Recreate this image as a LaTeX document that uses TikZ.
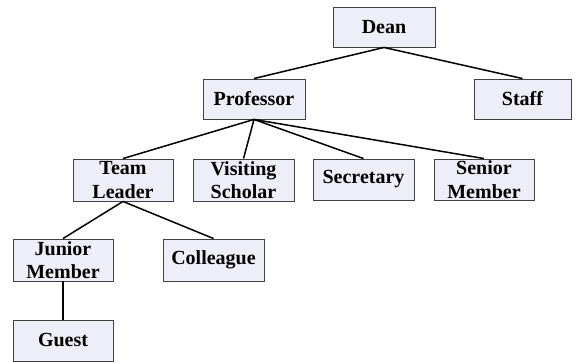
\documentclass[tikz,border=0pt]{standalone}
\usepackage{fontspec}
\setmainfont{Liberation Serif}
\begin{document}
\begin{tikzpicture}[x=1pt,y=-1pt,
  box/.style={draw=black!75, line width=0.9pt, fill=boxfill, minimum height=40pt,
    inner sep=0pt, align=center, font=\fontsize{20}{23.5}\selectfont\bfseries},
  link/.style={draw=black, line width=1.5pt}]
\definecolor{boxfill}{HTML}{EEEEF8}
\useasboundingbox (0,0) rectangle (576,363);
\node[box, minimum width=102pt] (dean) at (384,27) {Dean};
\node[box, minimum width=102pt] (prof) at (254,99) {Professor};
\node[box, minimum width=97pt] (staff) at (522.5,99) {Staff};
\node[box, minimum width=100pt, minimum height=42pt] (team) at (123,180) {Team\\Leader};
\node[box, minimum width=101pt, minimum height=42pt] (visit) at (243.5,180) {Visiting\\Scholar};
\node[box, minimum width=101pt, minimum height=41pt] (secr) at (363.5,179.5) {Secretary};
\node[box, minimum width=100pt, minimum height=41pt] (senior) at (484,179.5) {Senior\\Member};
\node[box, minimum width=100pt, minimum height=42pt] (junior) at (63,260) {Junior\\Member};
\node[box, minimum width=101pt, minimum height=42pt] (coll) at (213.5,260) {Colleague};
\node[box, minimum width=100pt, minimum height=41pt] (guest) at (63,340.5) {Guest};
\draw[link] (dean.south) -- (prof.north);
\draw[link] (dean.south) -- (staff.north);
\foreach \c in {team, visit, secr, senior}
  \draw[link] (prof.south) -- (\c.north);
\draw[link] (team.south) -- (junior.north);
\draw[link] (team.south) -- (coll.north);
\draw[link] (junior.south) -- (guest.north);
\end{tikzpicture}
\end{document}
